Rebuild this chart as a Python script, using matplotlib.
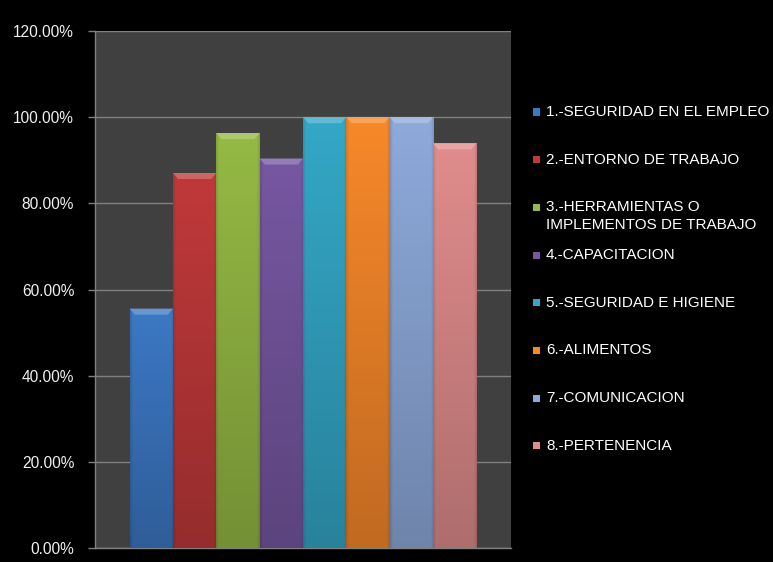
import numpy as np
import matplotlib
matplotlib.use("Agg")
import matplotlib.pyplot as plt
from matplotlib.patches import Rectangle, Polygon
from matplotlib.colors import to_rgb
from matplotlib.ticker import FuncFormatter

categorias = [
    "1.-SEGURIDAD EN EL EMPLEO",
    "2.-ENTORNO DE TRABAJO",
    "3.-HERRAMIENTAS O\nIMPLEMENTOS DE TRABAJO",
    "4.-CAPACITACION",
    "5.-SEGURIDAD E HIGIENE",
    "6.-ALIMENTOS",
    "7.-COMUNICACION",
    "8.-PERTENENCIA",
]
porcentajes = [55.56, 87.04, 96.30, 90.40, 100.0, 100.0, 100.0, 93.90]
colores = ["#3c78c4", "#c0393a", "#95b944", "#7657a1", "#34a7c7",
           "#f7882a", "#8eaadb", "#e08c8c"]
yticks = [0, 20, 40, 60, 80, 100, 120]

plt.rcParams["font.family"] = ["Liberation Sans", "DejaVu Sans"]

fig = plt.figure(figsize=(7.73, 5.62), dpi=100, facecolor="black")
ax = fig.add_axes([95 / 773, 14 / 562, 416 / 773, 517 / 562])
ax.set_facecolor("#404040")

x = np.arange(len(porcentajes))
bars = ax.bar(x, porcentajes, width=1.0, color=colores, zorder=2,
              edgecolor="none")

# shading: darker toward the bottom and the sides, bevel on top
bevel = 1.4
for rect, c in zip(bars, colores):
    x0, w, h = rect.get_x(), rect.get_width(), rect.get_height()
    base = np.array(to_rgb(c))
    yy = np.linspace(0.78, 1.0, 100)[:, None]
    xx = np.linspace(0, 1, 60)[None, :]
    edge = 1 - 0.12 * np.clip(1 - np.minimum(xx, 1 - xx) / 0.06, 0, 1)
    img = np.clip(base[None, None, :] * (yy * edge)[:, :, None], 0, 1)
    im = ax.imshow(img, extent=[x0, x0 + w, 0, h], origin="lower",
                   aspect="auto", zorder=3, interpolation="bilinear")
    im.set_clip_path(rect)
    light = np.clip(base + (1 - base) * 0.22, 0, 1)
    top = Polygon([[x0, h], [x0 + w, h], [x0 + w * 0.88, h - bevel],
                   [x0 + w * 0.12, h - bevel]], closed=True,
                  facecolor=light, edgecolor="none", zorder=4)
    ax.add_patch(top)

ax.set_xlim(-1.3, len(porcentajes) + 0.3)
ax.set_ylim(0, 120)
ax.set_yticks(yticks)
ax.yaxis.set_major_formatter(FuncFormatter(lambda v, p: f"{v:.2f}%"))
ax.set_xticks([])
ax.grid(axis="y", color="#808080", linewidth=1.0, zorder=1)
ax.set_axisbelow(True)
ax.tick_params(axis="y", colors="#808080", labelcolor="#f0f0f0",
               length=5, width=1, pad=10, labelsize=11.2)
for s in ["top", "right"]:
    ax.spines[s].set_visible(False)
for s in ["left", "bottom"]:
    ax.spines[s].set_color("#808080")
    ax.spines[s].set_linewidth(1.0)

# legend built entry by entry so the wrapped label hangs below its marker
W, H = 773, 562
leg_x, leg_y0, leg_step, line_h = 546, 112, 47.7, 18
for i, (lab, c) in enumerate(zip(categorias, colores)):
    yc = leg_y0 + i * leg_step
    fig.add_artist(Rectangle((533 / W, 1 - (yc + 3.5) / H), 7 / W, 7 / H,
                             transform=fig.transFigure, facecolor=c,
                             edgecolor="none"))
    for j, line in enumerate(lab.split("\n")):
        fig.text(leg_x / W, 1 - (yc + j * line_h) / H, line, color="white",
                 fontsize=11, va="center", ha="left")

fig.savefig("out.png", dpi=100, facecolor="black")
